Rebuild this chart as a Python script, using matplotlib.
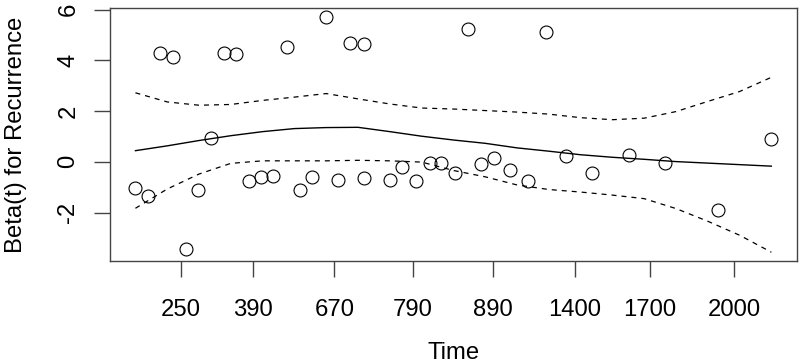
import matplotlib
matplotlib.use("Agg")
import matplotlib.pyplot as plt

# x values are on the transformed (1 - KM) time scale, 0..1
pt_x = [0.000, 0.020, 0.039, 0.059, 0.079, 0.099, 0.119, 0.139, 0.158, 0.178,
        0.198, 0.217, 0.239, 0.258, 0.277, 0.299, 0.318, 0.338, 0.359, 0.359,
        0.400, 0.419, 0.441, 0.463, 0.481, 0.502, 0.523, 0.543, 0.564, 0.589,
        0.617, 0.646, 0.677, 0.718, 0.776, 0.833, 0.916, 1.000]
pt_y = [-1.04, -1.33, 4.29, 4.12, -3.43, -1.10, 0.94, 4.29, 4.25, -0.75,
        -0.58, -0.54, 4.54, -1.10, -0.58, 5.71, -0.72, 4.70, 4.66, -0.62,
        -0.72, -0.20, -0.75, -0.04, -0.04, -0.42, 5.24, -0.09, 0.15, -0.33,
        -0.76, 5.12, 0.23, -0.42, 0.27, -0.04, -1.89, 0.90]

# smooth fit and confidence band
curve_x = [0.00, 0.05, 0.10, 0.15, 0.20, 0.25, 0.30, 0.35, 0.40, 0.45, 0.50,
           0.55, 0.60, 0.65, 0.70, 0.75, 0.80, 0.85, 0.90, 0.95, 1.00]
fit = [0.44, 0.63, 0.84, 1.03, 1.19, 1.31, 1.35, 1.36, 1.19, 1.01, 0.86,
       0.73, 0.55, 0.42, 0.28, 0.18, 0.10, 0.01, -0.05, -0.11, -0.17]
upper = [2.72, 2.36, 2.23, 2.26, 2.42, 2.55, 2.69, 2.48, 2.28, 2.12, 2.08,
         2.02, 1.96, 1.88, 1.74, 1.66, 1.72, 1.98, 2.38, 2.77, 3.33]
lower = [-1.83, -1.07, -0.48, -0.06, 0.04, 0.04, 0.04, 0.06, 0.04, -0.01, -0.34,
         -0.59, -0.91, -1.09, -1.19, -1.31, -1.45, -1.84, -2.34, -2.89, -3.56]

tick_pos = [0.072, 0.185, 0.313, 0.436, 0.562, 0.691, 0.809, 0.941]
tick_lab = ["250", "390", "670", "790", "890", "1400", "1700", "2000"]

plt.rcParams['font.family'] = ['Liberation Sans', 'DejaVu Sans']
fs = 17.2

fig = plt.figure(figsize=(8, 3.64), dpi=100)
ax = fig.add_axes([0.1375, 0.282, 0.8585, 0.696])

ax.plot(pt_x, pt_y, linestyle='none', marker='o', markersize=9.3,
        markerfacecolor='none', markeredgecolor='black', markeredgewidth=0.8)
ax.plot(curve_x, fit, color='black', linewidth=1.0)
ax.plot(curve_x, upper, color='black', linewidth=0.9, dashes=(4, 4))
ax.plot(curve_x, lower, color='black', linewidth=0.9, dashes=(4, 4))

ax.set_xlim(-0.04, 1.04)
ax.set_ylim(-3.92, 6.06)
ax.set_xticks(tick_pos)
ax.set_xticklabels(tick_lab)
ax.set_yticks([-2, 0, 2, 4, 6])
ax.set_yticklabels(["-2", "0", "2", "4", "6"], rotation=90, va='center')

for s in ax.spines.values():
    s.set_color('#444444')
    s.set_linewidth(1.0)
ax.tick_params(axis='both', length=11.2, width=1.0, color='#444444',
               labelsize=fs)
ax.tick_params(axis='x', pad=16)
ax.tick_params(axis='y', pad=10.8)

ax.set_xlabel("Time", fontsize=fs, labelpad=15)
ax.set_ylabel("Beta(t) for Recurrence", fontsize=fs, labelpad=22)

fig.savefig("out.png", dpi=100)
